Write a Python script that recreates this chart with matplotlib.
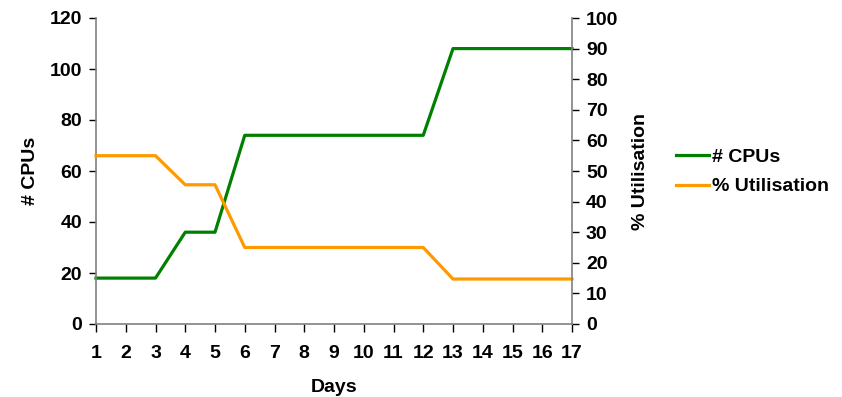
import matplotlib.pyplot as plt

plt.rcParams["font.family"] = ["Liberation Sans", "DejaVu Sans"]
plt.rcParams["font.weight"] = "bold"

days = list(range(1, 18))
cpus = [18, 18, 18, 36, 36, 74, 74, 74, 74, 74, 74, 74, 108, 108, 108, 108, 108]
utilisation = [55, 55, 55, 45.5, 45.5, 25, 25, 25, 25, 25, 25, 25, 14.7, 14.7, 14.7, 14.7, 14.7]

fig = plt.figure(figsize=(8.42, 3.97), dpi=100)
ax1 = fig.add_axes([96 / 842, 1 - 324 / 397, 476 / 842, 306 / 397])

ax1.plot(days, cpus, color="#008000", linewidth=2.3, label="# CPUs", clip_on=False)
ax1.set_xlim(1, 17)
ax1.set_ylim(0, 120)
ax1.set_yticks(range(0, 121, 20))
ax1.set_xticks(days)
ax1.set_xlabel("Days", fontsize=14, fontweight="bold", labelpad=12)
ax1.set_ylabel("# CPUs", fontsize=14, fontweight="bold", labelpad=8)

ax2 = ax1.twinx()
ax2.plot(days, utilisation, color="#FF9900", linewidth=2.3, label="% Utilisation", clip_on=False)
ax2.set_ylim(0, 100)
ax2.set_yticks(range(0, 101, 10))
ax2.set_ylabel("% Utilisation", fontsize=14, fontweight="bold", labelpad=10)

for ax in (ax1, ax2):
    ax.spines["top"].set_visible(False)
    for s in ax.spines.values():
        s.set_color("#808080")
        s.set_linewidth(1.2)
    ax.tick_params(labelsize=14, length=5, width=1, color="#000000", pad=5)
ax2.spines["left"].set_visible(False)
ax2.spines["bottom"].set_visible(False)
ax1.spines["right"].set_visible(False)
ax1.tick_params(axis="x", length=6, pad=9)

lines_1, labels_1 = ax1.get_legend_handles_labels()
lines_2, labels_2 = ax2.get_legend_handles_labels()
fig.legend(lines_1 + lines_2, labels_1 + labels_2, loc="center left",
           bbox_to_anchor=(658 / 842, 1 - 172 / 397), frameon=False,
           fontsize=14, handlelength=1.7, handletextpad=0.2, labelspacing=0.6)

fig.savefig("out.png", dpi=100)
